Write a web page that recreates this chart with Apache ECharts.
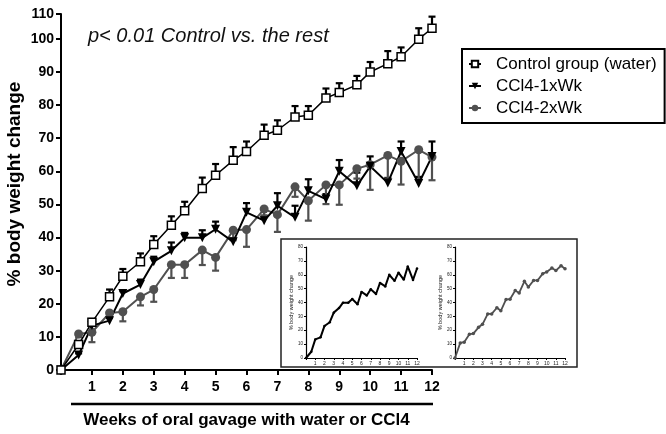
<!DOCTYPE html>
<html>
<head>
    <meta charset="UTF-8">
    <title>body weight change</title>
    <script src="https://cdn.jsdelivr.net/npm/echarts@6/dist/echarts.min.js"></script>
    <style>
        html, body { margin: 0; padding: 0; background: #fff; }
        #chart { width: 666px; height: 434px; }
    </style>
</head>
<body>
<div id="chart"></div>
<script>
    // measurement days (twice a week), in weeks
    var weeks = [0, 0.57, 1, 1.57, 2, 2.57, 3, 3.57, 4, 4.57, 5, 5.57, 6, 6.57, 7, 7.57, 8, 8.57, 9, 9.57, 10, 10.57, 11, 11.57, 12];

    var control    = [0, 7.7, 14.4, 22.1, 28.3, 32.7, 37.9, 43.7, 48.1, 54.8, 58.8, 63.3, 66, 70.9, 72.4, 76.4, 76.9, 82.1, 83.8, 86.1, 90, 92.5, 94.6, 99.9, 103.2];
    var controlErr = [0, 1, 1, 2.2, 2.2, 2.5, 2.5, 2.7, 2.7, 3.3, 3.4, 4, 3, 3.2, 3, 3.3, 2.8, 2.9, 2.8, 2.7, 3, 3.8, 2.8, 3.3, 3.5];

    var wk1    = [0, 4.5, 13.4, 14.9, 23.1, 25.8, 32.7, 36, 39.9, 39.9, 42.5, 38.7, 47.6, 45.1, 49.6, 46.1, 54.1, 51.6, 60, 55.6, 61.5, 56.5, 66, 56.3, 64.5];
    var wk1Err = [0, 0.5, 1, 0.8, 0.7, 1.5, 1.5, 2.5, 1.5, 2.3, 2.3, 1, 2.8, 1.5, 3.8, 3.5, 3.5, 1.5, 3.4, 4, 3, 1.5, 3, 2, 4.5];

    var wk2    = [0, 10.9, 11.4, 17.2, 17.6, 22.1, 24.3, 31.8, 31.8, 36.2, 34, 42.2, 42.4, 48.6, 46.9, 55.3, 51.1, 55.9, 55.9, 60.8, 62, 64.8, 63, 66.5, 64.3];
    var wk2Err = [0, 1, 3, 1, 2.9, 2.6, 3.7, 4, 4, 4.5, 4, 3, 5.2, 2, 5.2, 3, 6, 5.8, 6, 3, 7.6, 7, 7, 9, 7];

    var names = ['Control group (water)', 'CCl4-1xWk', 'CCl4-2xWk'];
    var gray = '#505050';
    var font = 'Liberation Sans, Arial, sans-serif';

    function pairs(ys) {
        return weeks.map(function (w, i) { return [w, ys[i]]; });
    }
    function errData(ys, es) {
        return weeks.map(function (w, i) { return [w, ys[i], es[i]]; });
    }
    // one-sided error bar with a cap: dir 1 = up, -1 = down
    function errBar(dir, color) {
        return function (params, api) {
            var x = api.value(0), y = api.value(1), e = api.value(2);
            if (!e) return null;
            var p0 = api.coord([x, y]);
            var p1 = api.coord([x, y + dir * e]);
            var w = 3.5;
            return {
                type: 'group',
                children: [
                    {type: 'line', shape: {x1: p0[0], y1: p0[1], x2: p1[0], y2: p1[1]}, style: {stroke: color, lineWidth: 2.2}},
                    {type: 'line', shape: {x1: p1[0] - w, y1: p1[1], x2: p1[0] + w, y2: p1[1]}, style: {stroke: color, lineWidth: 2.2}}
                ]
            };
        };
    }

    var chart = echarts.init(document.getElementById('chart'));

    var miniAxisX = function (idx) {
        return {
            type: 'value', gridIndex: idx, min: 0, max: 12, interval: 1,
            axisLine: {lineStyle: {color: '#000', width: 1.2}},
            axisTick: {length: 2, lineStyle: {color: '#000', width: 1}},
            axisLabel: {fontSize: 5, color: '#222', margin: 3, formatter: function (v) { return v === 0 ? '' : v; }},
            splitLine: {show: false}
        };
    };
    var miniAxisY = function (idx) {
        return {
            type: 'value', gridIndex: idx, min: 0, max: 80, interval: 10,
            name: '% body weight change', nameLocation: 'middle', nameGap: 10,
            nameTextStyle: {fontSize: 5.5, color: '#222', fontFamily: font},
            axisLine: {show: true, lineStyle: {color: '#000', width: 1.2}},
            axisTick: {show: true, length: 2, lineStyle: {color: '#000', width: 1}},
            axisLabel: {fontSize: 4.5, color: '#222', margin: 3},
            splitLine: {show: false}
        };
    };

    chart.setOption({
        animation: false,
        textStyle: {fontFamily: font},
        grid: [
            {left: 61, top: 14, width: 371, height: 361},
            {left: 306, top: 247, width: 111, height: 111},
            {left: 455, top: 247, width: 110, height: 111}
        ],
        legend: {
            data: names,
            orient: 'vertical',
            left: 462, top: 49,
            padding: [5, 8, 5, 6],
            itemWidth: 12, itemHeight: 8, itemGap: 2,
            borderColor: '#000', borderWidth: 2,
            textStyle: {fontSize: 17, color: '#000', lineHeight: 20, padding: [0, 0, 0, 10], fontFamily: font}
        },
        xAxis: [
            {
                type: 'value', gridIndex: 0, min: 0, max: 12, interval: 1,
                name: 'Weeks of oral gavage with water or CCl4',
                nameLocation: 'middle', nameGap: 42,
                nameTextStyle: {fontSize: 17, fontWeight: 'bold', color: '#000'},
                axisLine: {lineStyle: {color: '#000', width: 2}},
                axisTick: {length: 5, lineStyle: {color: '#000', width: 2}},
                axisLabel: {fontSize: 14, fontWeight: 'bold', color: '#000', margin: 10,
                    formatter: function (v) { return v === 0 ? '' : v; }},
                splitLine: {show: false}
            },
            miniAxisX(1),
            miniAxisX(2)
        ],
        yAxis: [
            {
                type: 'value', gridIndex: 0, min: 0, max: 107.5, interval: 10,
                axisLine: {show: true, lineStyle: {color: '#000', width: 2}},
                axisTick: {show: true, length: 5, lineStyle: {color: '#000', width: 2}},
                axisLabel: {fontSize: 14, fontWeight: 'bold', color: '#000', margin: 7,
                    formatter: function (v) { return v > 100 ? '110' : v; }},
                splitLine: {show: false}
            },
            miniAxisY(1),
            miniAxisY(2)
        ],
        graphic: [
            {type: 'text', x: 15, y: 184, rotation: Math.PI / 2,
                style: {text: '% body weight change', font: 'bold 19px ' + font, fill: '#000', align: 'center', verticalAlign: 'middle'}},
            {type: 'text', x: 88, y: 36,
                style: {text: 'p< 0.01 Control vs. the rest', font: 'italic 20px ' + font, fill: '#111', align: 'left', verticalAlign: 'middle'}},
            {type: 'line', shape: {x1: 71, y1: 404, x2: 433, y2: 404}, style: {stroke: '#000', lineWidth: 2.5}},
            {type: 'rect', shape: {x: 281, y: 239, width: 296, height: 128}, style: {fill: 'none', stroke: '#222', lineWidth: 1.5}}
        ],
        series: [
            {type: 'custom', name: 'err-ctrl', xAxisIndex: 0, yAxisIndex: 0, z: 1,
                renderItem: errBar(1, '#000'), data: errData(control, controlErr)},
            {type: 'custom', name: 'err-1x', xAxisIndex: 0, yAxisIndex: 0, z: 1,
                renderItem: errBar(1, '#000'), data: errData(wk1, wk1Err)},
            {type: 'custom', name: 'err-2x', xAxisIndex: 0, yAxisIndex: 0, z: 1,
                renderItem: errBar(-1, gray), data: errData(wk2, wk2Err)},
            {type: 'line', name: names[2], xAxisIndex: 0, yAxisIndex: 0, data: pairs(wk2),
                symbol: 'circle', symbolSize: 9,
                lineStyle: {color: gray, width: 2}, itemStyle: {color: gray}},
            {type: 'line', name: names[1], xAxisIndex: 0, yAxisIndex: 0, data: pairs(wk1),
                symbol: 'triangle', symbolRotate: 180, symbolSize: 9,
                lineStyle: {color: '#000', width: 2}, itemStyle: {color: '#000'}},
            {type: 'line', name: names[0], xAxisIndex: 0, yAxisIndex: 0, data: pairs(control),
                symbol: 'rect', symbolSize: 8,
                lineStyle: {color: '#000', width: 1.5},
                itemStyle: {color: '#fff', borderColor: '#000', borderWidth: 1.5}},
            // insets
            {type: 'line', name: 'inset-1x', xAxisIndex: 1, yAxisIndex: 1, data: pairs(wk1),
                symbol: 'circle', symbolSize: 2.5, lineStyle: {color: '#000', width: 2}, itemStyle: {color: '#000'}},
            {type: 'line', name: 'inset-2x', xAxisIndex: 2, yAxisIndex: 2, data: pairs(wk2),
                symbol: 'circle', symbolSize: 3.5, lineStyle: {color: gray, width: 1.8}, itemStyle: {color: gray}}
        ]
    });
</script>
</body>
</html>
